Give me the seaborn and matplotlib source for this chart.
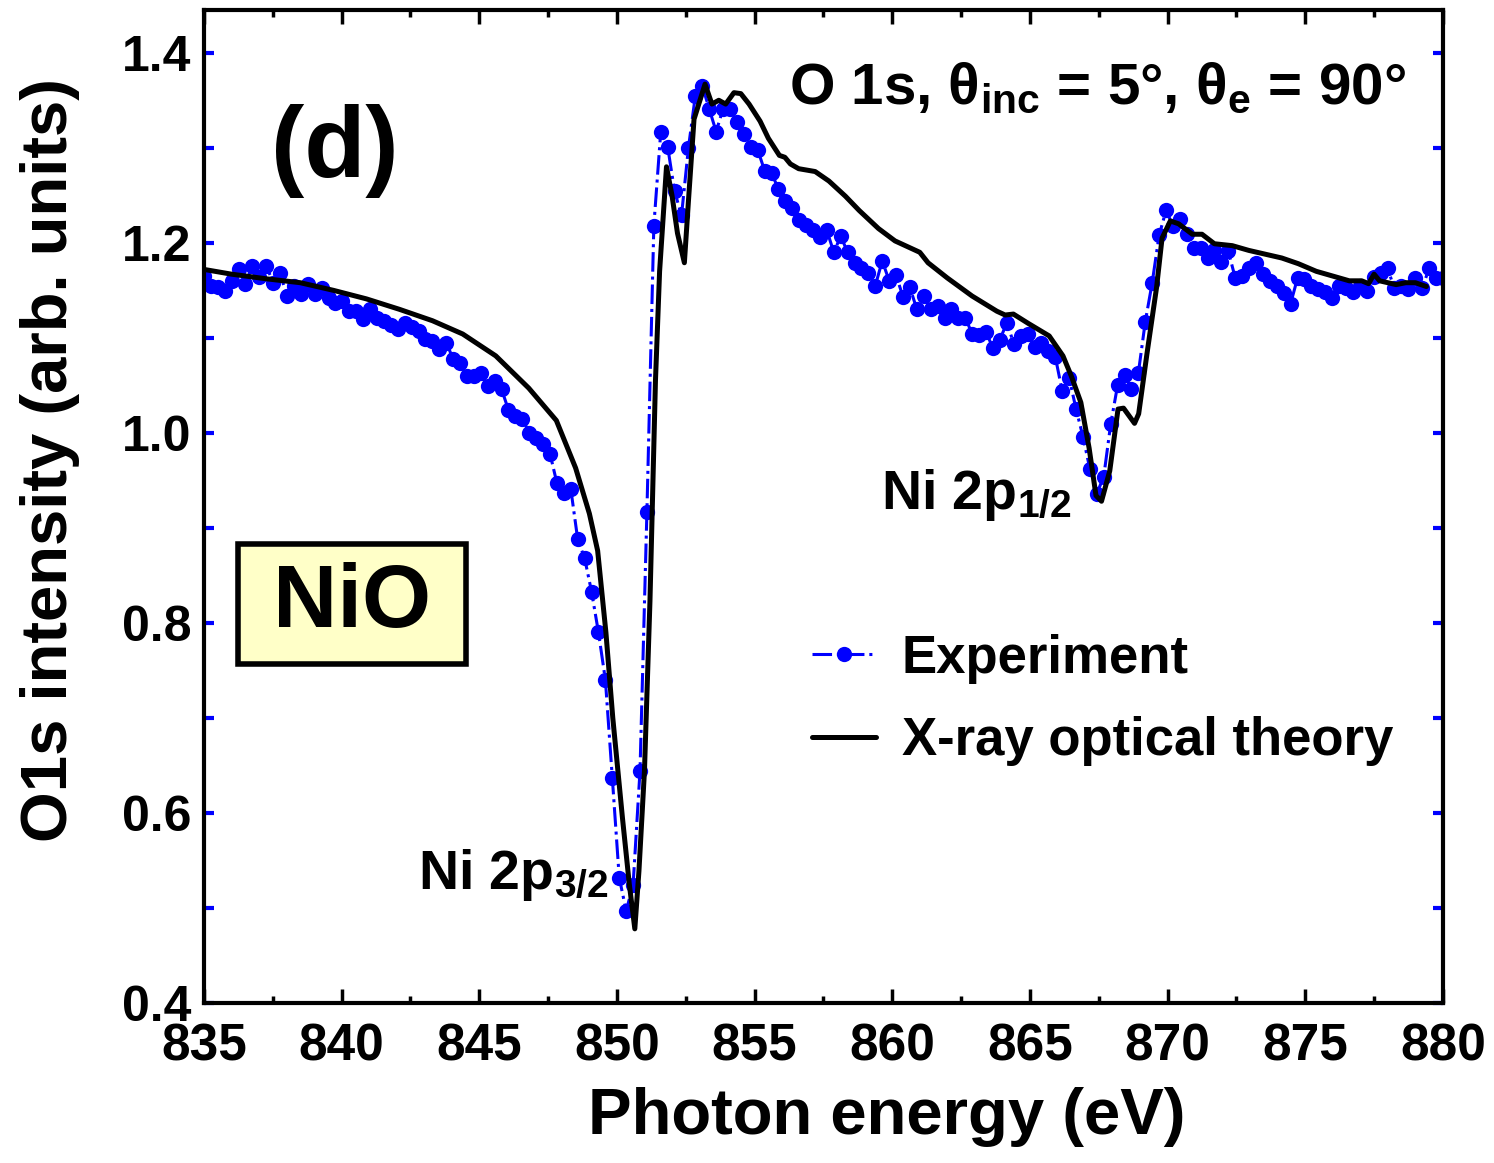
import numpy as np
import pandas as pd
import matplotlib
matplotlib.use("Agg")
import matplotlib.pyplot as plt
from matplotlib.patches import Rectangle
from matplotlib.ticker import MultipleLocator
import seaborn as sns

# experiment: O 1s intensity on a uniform photon-energy scan 835-880 eV
exp_intensity = [
    1.165, 1.155, 1.153, 1.149, 1.160, 1.172, 1.157, 1.176, 1.164, 1.176,
    1.158, 1.168, 1.144, 1.155, 1.146, 1.157, 1.146, 1.152, 1.142, 1.137,
    1.139, 1.128, 1.128, 1.120, 1.130, 1.121, 1.118, 1.113, 1.109, 1.116,
    1.111, 1.107, 1.099, 1.097, 1.088,
    1.095, 1.078, 1.073, 1.060, 1.060, 1.063, 1.049, 1.055, 1.046, 1.024,
    1.018, 1.015, 1.000, 0.995, 0.988, 0.978, 0.947, 0.937, 0.941, 0.888,
    0.868, 0.833, 0.790, 0.740, 0.637, 0.532, 0.497, 0.524, 0.644, 0.917,
    1.218, 1.317, 1.301, 1.254, 1.229, 1.300, 1.355, 1.365, 1.341, 1.317,
    1.341, 1.341, 1.327, 1.315, 1.301, 1.298, 1.276, 1.273, 1.257, 1.244,
    1.237, 1.224, 1.219, 1.213, 1.206, 1.213, 1.190, 1.207, 1.190, 1.179,
    1.173, 1.168, 1.155, 1.181, 1.160, 1.166, 1.143, 1.153, 1.130, 1.144,
    1.130, 1.133, 1.121, 1.130, 1.121, 1.121, 1.104, 1.103, 1.106, 1.089,
    1.098, 1.116, 1.094, 1.102, 1.104, 1.090, 1.095, 1.086, 1.080, 1.044,
    1.058, 1.025, 0.996, 0.962, 0.936, 0.954, 1.009, 1.050, 1.061, 1.046,
    1.063, 1.117, 1.158, 1.208, 1.234, 1.218, 1.225, 1.209, 1.195, 1.195,
    1.184, 1.192, 1.180, 1.191, 1.163, 1.165, 1.174, 1.179, 1.167, 1.160,
    1.155, 1.147, 1.136, 1.163, 1.162, 1.155, 1.151, 1.148, 1.142, 1.155,
    1.152, 1.148, 1.155, 1.149, 1.164, 1.168, 1.173, 1.152, 1.155, 1.151,
    1.163, 1.152, 1.173, 1.163, 1.163,
]
exp_energy = np.linspace(835, 880, len(exp_intensity))

# X-ray optical theory
theory_energy = [
    835.0, 836.0, 837.3, 838.5, 839.7, 840.9, 842.1, 843.3, 844.4, 845.6,
    846.8, 847.8, 848.5, 849.0, 849.3, 849.6, 849.85, 850.2, 850.45, 850.65,
    850.8, 851.0, 851.2, 851.4, 851.55, 851.8, 852.0, 852.2, 852.45, 852.6,
    852.8, 853.2, 853.45, 853.7, 853.95, 854.25, 854.5, 854.8, 855.2, 855.5,
    855.9, 856.1, 856.3, 856.6, 857.2, 857.7, 858.3, 858.8, 859.5, 860.1,
    861.0, 861.3, 862.0, 862.9, 863.8, 864.1, 864.4, 864.95, 865.7, 866.2,
    866.5, 866.85, 867.15, 867.4, 867.6, 867.9, 868.2, 868.4, 868.8, 868.95,
    869.25, 869.6, 869.8, 870.1, 870.4, 870.9, 871.25, 871.7, 872.35, 872.95,
    873.55, 874.15, 874.75, 875.4, 876.0, 876.6, 877.05, 877.3, 877.5, 877.7,
    878.3, 878.65, 879.0, 879.4,
]
theory_intensity = [
    1.172, 1.167, 1.162, 1.158, 1.150, 1.141, 1.130, 1.118, 1.104, 1.081,
    1.047, 1.013, 0.963, 0.915, 0.876, 0.790, 0.700, 0.595, 0.525, 0.478,
    0.539, 0.644, 0.823, 1.055, 1.170, 1.280, 1.250, 1.210, 1.179, 1.245,
    1.330, 1.367, 1.346, 1.350, 1.346, 1.358, 1.357, 1.346, 1.328, 1.310,
    1.292, 1.290, 1.283, 1.278, 1.275, 1.265, 1.249, 1.234, 1.215, 1.202,
    1.190, 1.179, 1.163, 1.144, 1.128, 1.124, 1.125, 1.115, 1.102, 1.081,
    1.060, 1.032, 0.984, 0.934, 0.928, 0.960, 1.025, 1.026, 1.010, 1.020,
    1.083, 1.153, 1.205, 1.223, 1.220, 1.209, 1.209, 1.199, 1.197, 1.192,
    1.188, 1.184, 1.178, 1.170, 1.165, 1.160, 1.160, 1.157, 1.167, 1.160,
    1.156, 1.158, 1.158, 1.154,
]

y_ticks = [0.4, 0.6, 0.8, 1.0, 1.2, 1.4]

exp_df = pd.DataFrame({"energy": exp_energy, "intensity": exp_intensity})
theory_df = pd.DataFrame({"energy": theory_energy, "intensity": theory_intensity})

sns.set_theme(style="ticks")
plt.rcParams["font.family"] = ["Liberation Sans", "DejaVu Sans"]
plt.rcParams["font.weight"] = "bold"
plt.rcParams["text.color"] = "black"
plt.rcParams["axes.labelcolor"] = "black"
plt.rcParams["xtick.color"] = "black"
plt.rcParams["ytick.color"] = "black"
plt.rcParams["mathtext.fontset"] = "custom"
plt.rcParams["mathtext.rm"] = "Liberation Sans:bold"
plt.rcParams["mathtext.bf"] = "Liberation Sans:bold"
plt.rcParams["mathtext.it"] = "Liberation Sans:bold"

fig = plt.figure(figsize=(14.94, 11.63), dpi=100)
ax = fig.add_axes([0.1365, 0.1376, 0.8293, 0.8538])

sns.lineplot(data=exp_df, x="energy", y="intensity", ax=ax, color="#0000ff",
             marker="o", markersize=11, markeredgewidth=0, linewidth=2.2,
             linestyle="-.", label="Experiment", zorder=2)
sns.lineplot(data=theory_df, x="energy", y="intensity", ax=ax, color="black",
             linewidth=3.6, label="X-ray optical theory", zorder=3)

ax.set_xlim(835, 880)
ax.set_ylim(0.4, 1.445)

ax.xaxis.set_major_locator(MultipleLocator(5))
ax.xaxis.set_minor_locator(MultipleLocator(2.5))
ax.yaxis.set_minor_locator(MultipleLocator(0.1))
ax.set_yticks(y_ticks)
ax.set_yticklabels([f"{v:.1f}" for v in y_ticks])
ax.tick_params(axis="x", which="both", direction="in", top=True, bottom=True,
               color="black", labelcolor="black", width=2.5)
ax.tick_params(axis="x", which="major", length=10, pad=14)
ax.tick_params(axis="x", which="minor", length=5)
ax.tick_params(axis="y", which="both", direction="in", left=True, right=True,
               color="#0000ff", labelcolor="black", width=3, length=7, pad=9)

for lab in ax.get_xticklabels():
    lab.set_fontsize(37)
    lab.set_fontweight("bold")
for lab in ax.get_yticklabels():
    lab.set_fontsize(36)
    lab.set_fontweight("bold")

for sp in ax.spines.values():
    sp.set_linewidth(3)
    sp.set_color("black")

ax.set_xlabel("Photon energy (eV)", fontsize=47, fontweight="bold")
ax.set_ylabel("O1s intensity (arb. units)", fontsize=47, fontweight="bold")
ax.xaxis.set_label_coords(0.551, -0.085)
ax.yaxis.set_label_coords(-0.1, 0.547)

ax.text(839.75, 1.297, "(d)", fontsize=72, fontweight="bold",
        ha="center", va="center")
ax.text(856.26, 1.346,
        "O 1s, \u03b8$_{\\mathregular{inc}}$ = 5\u00b0, \u03b8$_{\\mathregular{e}}$ = 90\u00b0",
        fontsize=42, fontweight="bold", ha="left", va="baseline")

ax.add_patch(Rectangle((836.23, 0.757), 8.28, 0.126, facecolor="#ffffc8",
                       edgecolor="black", linewidth=4, zorder=4))
ax.text(840.37, 0.82, "NiO", fontsize=64, fontweight="bold",
        ha="center", va="center", zorder=5)
ax.text(842.76, 0.52, "Ni 2p$_{\\mathregular{3/2}}$", fontsize=40,
        fontweight="bold", ha="left", va="baseline")
ax.text(859.6, 0.92, "Ni 2p$_{\\mathregular{1/2}}$", fontsize=40,
        fontweight="bold", ha="left", va="baseline")

leg = ax.legend(loc="upper left", bbox_to_anchor=(0.491, 0.372), frameon=False,
                fontsize=38, handlelength=1.2, handletextpad=0.5,
                labelspacing=0.62, borderpad=0, borderaxespad=0)
for t in leg.get_texts():
    t.set_fontweight("bold")
    t.set_color("black")

fig.savefig("out.png", dpi=100)
